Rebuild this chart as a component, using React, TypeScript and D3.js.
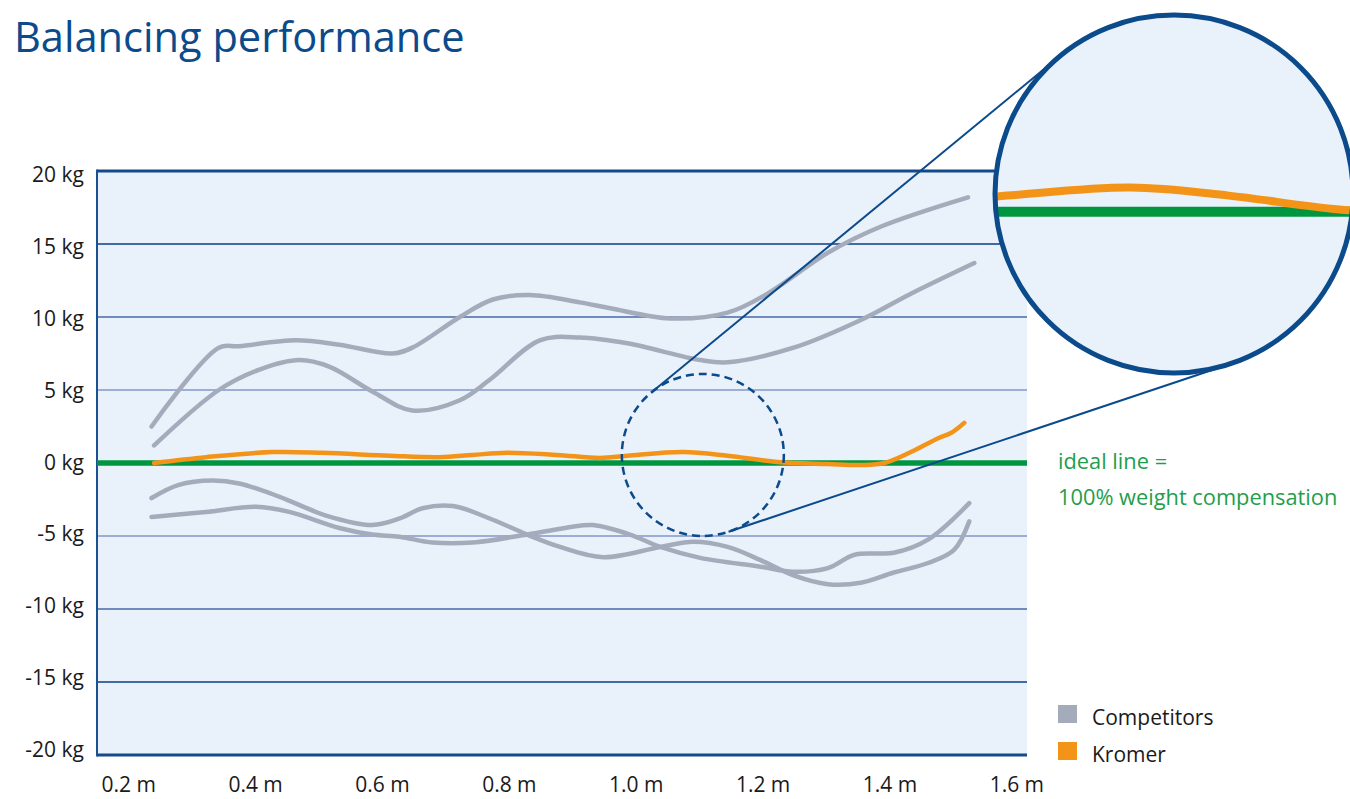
import React from "react"
import * as d3 from "d3"

type Pt = [number, number]

// axis ticks
const yTicks = [20, 15, 10, 5, 0, -5, -10, -15, -20]
const xTicks = [0.2, 0.4, 0.6, 0.8, 1.0, 1.2, 1.4, 1.6]

// [stroke length m, force kg]
const competitorA: Pt[] = [
  [0.236, 2.5], [0.342, 7.9], [0.374, 8.0], [0.464, 8.4], [0.532, 8.1],
  [0.616, 7.5], [0.647, 7.9], [0.722, 10.0], [0.774, 11.2], [0.832, 11.5],
  [0.911, 11.0], [0.959, 10.6], [1.054, 9.9], [1.144, 10.3], [1.207, 11.6],
  [1.302, 14.4], [1.386, 16.2], [1.523, 18.2],
]
const competitorB: Pt[] = [
  [0.24, 1.2], [0.342, 5.0], [0.406, 6.4], [0.469, 7.05], [0.516, 6.6],
  [0.584, 4.9], [0.647, 3.6], [0.722, 4.3], [0.769, 5.7], [0.848, 8.4],
  [0.911, 8.6], [0.986, 8.2], [1.101, 7.05], [1.144, 6.9], [1.248, 7.9],
  [1.354, 9.8], [1.433, 11.6], [1.533, 13.7],
]
const competitorC: Pt[] = [
  [0.236, -2.4], [0.279, -1.5], [0.331, -1.2], [0.374, -1.4], [0.437, -2.3],
  [0.511, -3.6], [0.584, -4.25], [0.627, -3.8], [0.663, -3.1], [0.711, -2.95],
  [0.769, -3.8], [0.828, -4.9], [0.88, -5.75], [0.948, -6.45], [1.038, -5.75],
  [1.09, -5.4], [1.144, -5.75], [1.196, -6.65], [1.248, -7.7], [1.302, -8.3],
  [1.354, -8.2], [1.406, -7.5], [1.46, -6.85], [1.501, -5.95], [1.525, -4.0],
]
const competitorD: Pt[] = [
  [0.236, -3.7], [0.322, -3.35], [0.401, -3.0], [0.453, -3.35], [0.532, -4.45],
  [0.584, -4.9], [0.627, -5.05], [0.679, -5.45], [0.742, -5.45], [0.828, -4.9],
  [0.911, -4.3], [0.932, -4.25], [0.99, -4.9], [1.038, -5.75], [1.101, -6.5],
  [1.196, -7.1], [1.248, -7.45], [1.302, -7.2], [1.343, -6.3], [1.381, -6.2],
  [1.406, -6.15], [1.46, -5.25], [1.525, -2.75],
]
const kromer: Pt[] = [
  [0.24, 0], [0.322, 0.4], [0.426, 0.75], [0.505, 0.7], [0.611, 0.5],
  [0.69, 0.4], [0.742, 0.55], [0.796, 0.7], [0.875, 0.55], [0.943, 0.35],
  [0.986, 0.5], [1.074, 0.75], [1.144, 0.5], [1.223, 0.07], [1.302, -0.07],
  [1.354, -0.14], [1.391, 0], [1.433, 0.75], [1.476, 1.7], [1.496, 2.05],
  [1.517, 2.75],
]
const competitors = [competitorA, competitorB, competitorC, competitorD]

const legendItems = [
  { label: "Competitors", color: "#a4acbc" },
  { label: "Kromer", color: "#f39419" },
]

const W = 1350
const H = 799
const plot = { left: 97, right: 1027, top: 171, bottom: 755 }

const BLUE = "#0b4a8b"
const GRAY = "#a4acbc"
const ORANGE = "#f39419"
const GREEN = "#00963f"
const BG = "#e9f1fb"
const FONT = "'Open Sans', sans-serif"

// lens (dashed) in data units, magnifier in page px
const lensAt = { x: 1.105, y: 0.55 }
const lensR = 81
const magC = { x: 1174, y: 194 }
const magR = 179

export default function App() {
  const x = d3.scaleLinear().domain([0.15, 1.616]).range([plot.left, plot.right])
  const y = d3.scaleLinear().domain([-20, 20]).range([plot.bottom, plot.top])
  const yLabel = d3.scaleLinear().domain([-20, 20]).range([749.5, 174.5])
  const gridColor = d3
    .scaleLinear<string>()
    .domain([5, 20])
    .range(["#9cadd6", "#154a8a"])

  const line = d3
    .line<Pt>()
    .x((d) => x(d[0]))
    .y((d) => y(d[1]))
    .curve(d3.curveCatmullRom.alpha(0.5))

  const c1 = { x: x(lensAt.x), y: y(lensAt.y) }
  const k = magR / lensR

  // outer tangents between lens and magnifier
  const dx = magC.x - c1.x
  const dy = magC.y - c1.y
  const dist = Math.hypot(dx, dy)
  const theta = Math.atan2(dy, dx)
  const alpha = Math.acos((lensR - magR) / dist)
  const tangents = [theta + alpha, theta - alpha].map((a) => ({
    x1: c1.x + lensR * Math.cos(a),
    y1: c1.y + lensR * Math.sin(a),
    x2: magC.x + magR * Math.cos(a),
    y2: magC.y + magR * Math.sin(a),
  }))

  return (
    <svg
      width={W}
      height={H}
      style={{ position: "absolute", left: 0, top: 0, display: "block" }}
      fontFamily={FONT}
    >
      <defs>
        <clipPath id="magClip">
          <circle cx={magC.x} cy={magC.y} r={magR} />
        </clipPath>
      </defs>

      <text x={14} y={52} fontSize={41.6} fill={BLUE}>
        Balancing performance
      </text>

      <rect
        x={plot.left}
        y={plot.top}
        width={plot.right - plot.left}
        height={plot.bottom - plot.top}
        fill={BG}
      />

      {yTicks
        .filter((v) => v !== 0)
        .map((v) => (
          <line
            key={v}
            x1={plot.left}
            x2={plot.right}
            y1={y(v)}
            y2={y(v)}
            stroke={gridColor(Math.abs(v))}
            strokeWidth={Math.abs(v) === 20 ? 3 : 2}
          />
        ))}
      <line
        x1={plot.left}
        x2={plot.left}
        y1={plot.top - 1.5}
        y2={plot.bottom + 1.5}
        stroke={"#1d5090"}
        strokeWidth={2}
      />

      {yTicks.map((v) => (
        <text
          key={v}
          x={84}
          y={yLabel(v)}
          dy="0.36em"
          textAnchor="end"
          fontSize={21}
          fill="#1a1a1a"
        >
          {v} kg
        </text>
      ))}
      {xTicks.map((v) => (
        <text
          key={v}
          x={x(v)}
          y={792}
          textAnchor="middle"
          fontSize={21}
          fill="#1a1a1a"
        >
          {v.toFixed(1)} m
        </text>
      ))}

      <line
        x1={plot.left}
        x2={plot.right}
        y1={y(0)}
        y2={y(0)}
        stroke={GREEN}
        strokeWidth={5.5}
      />
      {competitors.map((s, i) => (
        <path
          key={i}
          d={line(s) ?? ""}
          fill="none"
          stroke={GRAY}
          strokeWidth={4.5}
          strokeLinecap="round"
        />
      ))}
      <path
        d={line(kromer) ?? ""}
        fill="none"
        stroke={ORANGE}
        strokeWidth={4.5}
        strokeLinecap="round"
      />

      <circle
        cx={c1.x}
        cy={c1.y}
        r={lensR}
        fill="none"
        stroke={BLUE}
        strokeWidth={2.5}
        strokeDasharray="8 5"
      />
      {tangents.map((t, i) => (
        <line key={i} {...t} stroke={BLUE} strokeWidth={2} />
      ))}

      <circle cx={magC.x} cy={magC.y} r={magR} fill={BG} />
      <g clipPath="url(#magClip)">
        <g
          transform={`translate(${magC.x},${magC.y}) scale(${k}) translate(${-c1.x},${-c1.y})`}
        >
          <line
            x1={plot.left}
            x2={plot.right}
            y1={y(0)}
            y2={y(0)}
            stroke={GREEN}
            strokeWidth={10 / k}
          />
          <path
            d={line(kromer) ?? ""}
            fill="none"
            stroke={ORANGE}
            strokeWidth={8 / k}
          />
        </g>
      </g>
      <circle
        cx={magC.x}
        cy={magC.y}
        r={magR}
        fill="none"
        stroke={BLUE}
        strokeWidth={5}
      />

      <text x={1058} y={469} fontSize={21.8} fill="#1f9e4c">
        ideal line =
      </text>
      <text x={1058} y={505} fontSize={21.8} fill="#1f9e4c">
        100% weight compensation
      </text>

      {legendItems.map((d, i) => (
        <g key={d.label} transform={`translate(1058,${705 + i * 37})`}>
          <rect width={19} height={18} fill={d.color} />
          <text x={34} y={20} fontSize={21} fill="#1a1a1a">
            {d.label}
          </text>
        </g>
      ))}
    </svg>
  )
}
